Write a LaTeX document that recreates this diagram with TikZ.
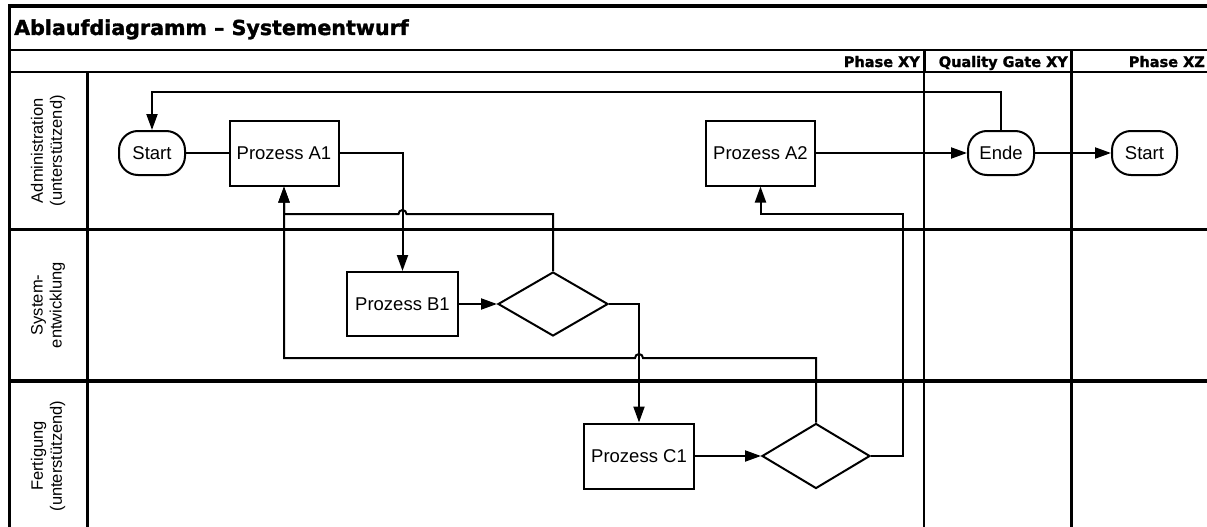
\documentclass[tikz,border=0pt]{standalone}
\usepackage{fontspec}
\setmainfont{Liberation Sans}
\newfontfamily\headfont{DejaVu Sans Bold}[FakeBold=1.6]
\usetikzlibrary{arrows.meta,shapes.geometric,calc}

\begin{document}
\begin{tikzpicture}[x=1pt,y=-1pt,
  heavy/.style={line width=3.5pt},
  conn/.style={line width=2pt},
  arr/.style={conn,-{Triangle[length=16pt,width=11pt]}},
  proc/.style={draw,line width=2pt,rectangle,minimum width=109pt,minimum height=65pt,
    inner sep=0pt,font=\fontsize{18.5}{22}\selectfont},
  term/.style={draw,line width=2pt,rectangle,rounded corners=19pt,minimum width=66pt,
    minimum height=44pt,inner sep=0pt,font=\fontsize{18.5}{22}\selectfont},
  dec/.style={draw,line width=2pt,diamond,minimum width=110pt,minimum height=64pt,inner sep=0pt},
  lanelbl/.style={rotate=90,align=center,inner sep=0pt,font=\fontsize{16.5}{19}\selectfont},
  phaselbl/.style={anchor=base east,inner sep=0pt,font=\headfont\fontsize{14.5}{17}\selectfont}
]
\useasboundingbox (0,0) rectangle (1207,527);

% pool frame, lanes and phase columns
\begin{scope}
  \clip (0,0) rectangle (1207,527);
  \draw[heavy] (1230,6) -- (9.5,6) -- (9.5,545);
  \draw[line width=2.5pt] (9.5,50) -- (1230,50);
  \draw[line width=2.5pt] (9.5,72) -- (1230,72);
  \draw[heavy] (9.5,229.5) -- (1230,229.5);
  \draw[heavy] (9.5,381) -- (1230,381);
  \draw[line width=3pt] (87.5,72) -- (87.5,545);
  \draw[line width=3pt] (924,50) -- (924,72);
  \draw[line width=1.8pt] (924,72) -- (924,545);
  \draw[heavy] (1071.5,50) -- (1071.5,545);
\end{scope}

% titles
\node[anchor=base west,inner sep=0pt,font=\headfont\fontsize{20.6}{24}\selectfont]
  (title) at (14,35) {Ablaufdiagramm – Systementwurf};
\node[phaselbl] (phxy) at (920,67) {Phase XY};
\node[phaselbl] (qgxy) at (1068,67) {Quality Gate XY};
\node[phaselbl] (phxz) at (1205,67) {Phase XZ};

\node[lanelbl] (lane1) at (48,150.75) {Administration\\(unterstützend)};
\node[lanelbl] (lane2) at (48,305) {System-\\entwicklung};
\node[lanelbl] (lane3) at (48,456) {Fertigung\\(unterstützend)};

% flow elements
\node[term] (start1) at (152,153) {Start};
\node[proc] (a1) at (284,153) {Prozess A1};
\node[proc,minimum width=111pt,minimum height=64pt] (b1) at (402.5,304) {Prozess B1};
\node[dec] (d1) at (553,304) {};
\node[proc,minimum width=110pt] (c1) at (639,456) {Prozess C1};
\node[dec,minimum width=108pt,minimum height=65pt] (d2) at (816,456) {};
\node[proc] (a2) at (760.5,153) {Prozess A2};
\node[term] (ende) at (1001,153) {Ende};
\node[term,minimum width=65pt] (start2) at (1144.5,153) {Start};

% routing levels
\coordinate (ytop) at (0,92);
\coordinate (ya) at (0,214);
\coordinate (yb) at (0,358);
\coordinate (xr) at (903,0);

% connectors
\draw[conn] (start1.east) -- (a1.west);
\draw[arr] (a1.east) -| (b1.north);
\draw[arr] (b1.east) -- (d1.west);
\draw[arr] (d1.north) -- (d1.north |- ya)
  -- ($(b1.north |- ya)+(4,0)$) arc[start angle=0,end angle=-180,radius=4]
  -- (a1.south |- ya) -- (a1.south);
\draw[arr] (d1.east) -| (c1.north);
\draw[arr] (d2.north) -- (d2.north |- yb)
  -- ($(c1.north |- yb)+(4,0)$) arc[start angle=0,end angle=-180,radius=4]
  -- (a1.south |- yb) -- (a1.south);
\draw[arr] (c1.east) -- (d2.west);
\draw[arr] (d2.east) -- (d2.east -| xr) -- (xr |- ya) -- (a2.south |- ya) -- (a2.south);
\draw[arr] (a2.east) -- (ende.west);
\draw[arr] (ende.east) -- (start2.west);
\draw[arr] (ende.north) -- (ende.north |- ytop) -- (start1.north |- ytop) -- (start1.north);
\end{tikzpicture}
\end{document}
